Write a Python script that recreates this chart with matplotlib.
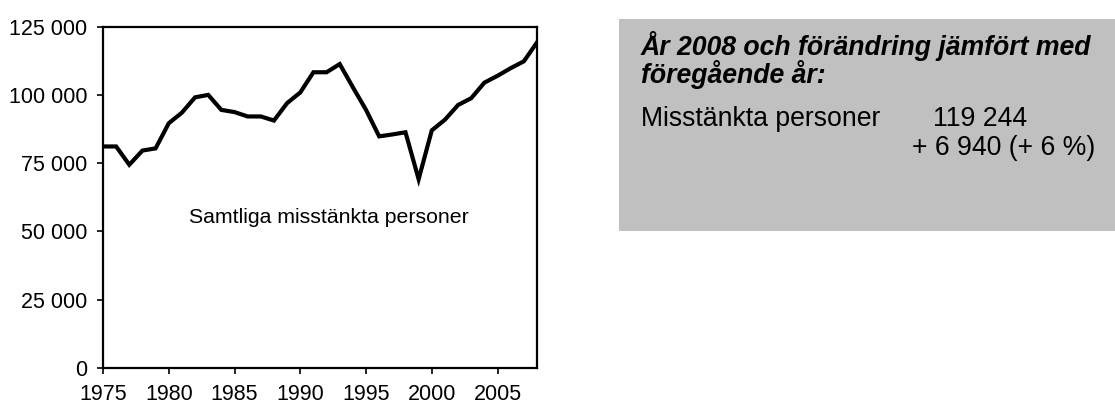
import matplotlib
matplotlib.use("Agg")
import matplotlib.pyplot as plt
from matplotlib.patches import Rectangle
from matplotlib.ticker import FuncFormatter

# Misstänkta personer per år
years = list(range(1975, 2009))
suspects = [
    81100, 81100, 74400, 79600, 80400, 89600, 93500, 99100, 100000, 94500,
    93700, 92100, 92100, 90600, 97000, 100900, 108300, 108300, 111300, 102800,
    94500, 84800, 85500, 86300, 69100, 87000, 90900, 96300, 98800, 104500,
    107000, 109800, 112304, 119244,
]
y_ticks = [0, 25000, 50000, 75000, 100000, 125000]
x_ticks = [1975, 1980, 1985, 1990, 1995, 2000, 2005]

line_label = "Samtliga misstänkta personer"
box_title_1 = "År 2008 och förändring jämfört med"
box_title_2 = "föregående år:"
box_row = "Misstänkta personer"
box_value = "119 244"
box_change = "+ 6 940 (+ 6 %)"

plt.rcParams["font.family"] = ["Liberation Sans", "DejaVu Sans"]

W, H = 1115, 405
fig = plt.figure(figsize=(W / 100, H / 100), dpi=100)
ax = fig.add_axes([103 / W, 1 - 367.7 / H, (537 - 103) / W, (367.7 - 26.7) / H])

ax.plot(years, suspects, color="black", lw=3.0, solid_joinstyle="miter")
ax.set_xlim(1975, 2008)
ax.set_ylim(0, 125000)
ax.set_xticks(x_ticks)
ax.set_yticks(y_ticks)
ax.yaxis.set_major_formatter(FuncFormatter(lambda v, _: f"{int(v):,}".replace(",", " ")))
ax.tick_params(direction="out", length=4.5, width=1.2, labelsize=15.5, colors="black")
ax.tick_params(axis="y", pad=7)
ax.tick_params(axis="x", pad=7)
for sp in ax.spines.values():
    sp.set_linewidth(1.6)

ax.text(1992.2, 55200, line_label, fontsize=15.3, ha="center", va="center")

# Faktaruta
fig.patches.append(Rectangle((619 / W, 1 - 231 / H), (W - 619) / W, (231 - 19) / H,
                             transform=fig.transFigure, facecolor="#c0c0c0",
                             edgecolor="none"))
fs = 19.2
fig.text(641 / W, 1 - 55 / H, box_title_1, fontsize=fs, fontweight="bold",
         style="italic", va="baseline", ha="left")
fig.text(641 / W, 1 - 83 / H, box_title_2, fontsize=fs, fontweight="bold",
         style="italic", va="baseline", ha="left")
fig.text(641 / W, 1 - 126 / H, box_row, fontsize=fs, va="baseline", ha="left")
fig.text(1027 / W, 1 - 126 / H, box_value, fontsize=fs, va="baseline", ha="right")
fig.text(1095 / W, 1 - 155 / H, box_change, fontsize=fs, va="baseline", ha="right")

fig.savefig("out.png", dpi=100)
